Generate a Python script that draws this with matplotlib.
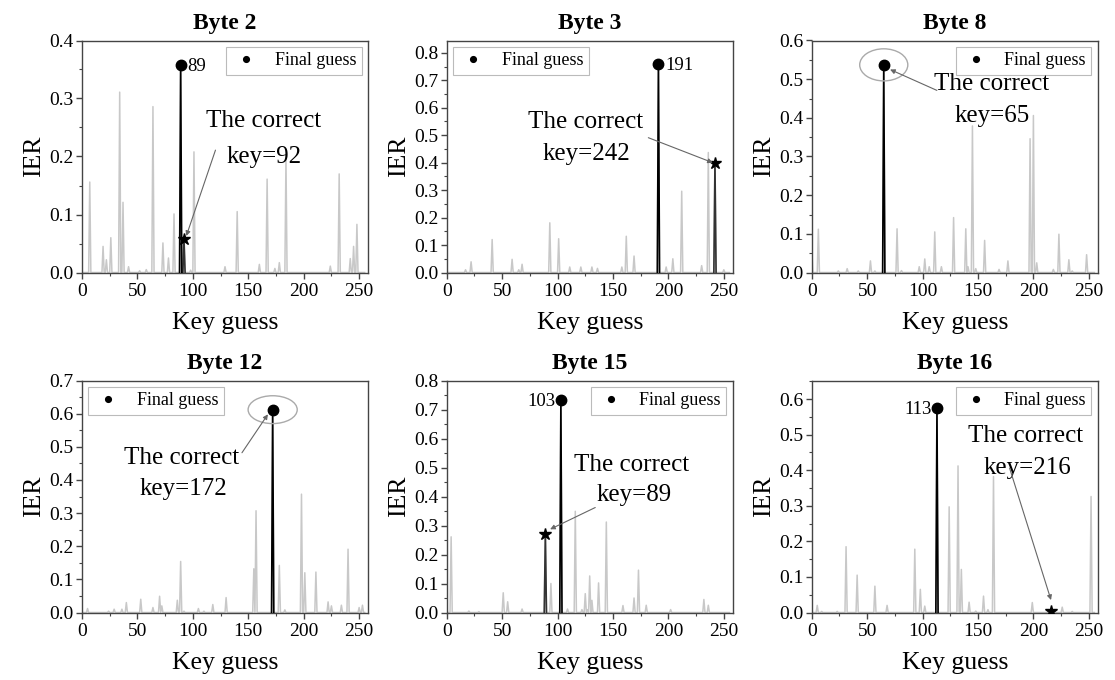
import numpy as np
import matplotlib
matplotlib.use("Agg")
import matplotlib.pyplot as plt
from matplotlib.patches import Ellipse
from matplotlib.ticker import MultipleLocator, FormatStrFormatter

plt.rcParams['font.family'] = ['Liberation Serif', 'DejaVu Serif']

# ---------------- data ----------------
titles = ["Byte 2", "Byte 3", "Byte 8", "Byte 12", "Byte 15", "Byte 16"]
final_guess = [89, 191, 65, 172, 103, 113]
correct_key = [92, 242, 65, 172, 89, 216]

b2_keys = [7, 19, 22, 26, 34, 37, 42, 52, 58, 64, 73, 78, 83, 89, 92, 98, 101,
           129, 140, 160, 167, 174, 178, 184, 224, 232, 242, 245, 248]
b2_vals = [0.156, 0.045, 0.022, 0.06, 0.311, 0.121, 0.01, 0.003, 0.005, 0.286,
           0.051, 0.025, 0.101, 0.358, 0.058, 0.004, 0.208, 0.01, 0.105, 0.014,
           0.161, 0.007, 0.017, 0.197, 0.011, 0.17, 0.024, 0.045, 0.083]

b3_keys = [17, 22, 41, 59, 65, 68, 93, 101, 111, 121, 131, 136, 158, 162, 169,
           191, 198, 204, 212, 230, 236, 242, 250]
b3_vals = [0.01, 0.039, 0.12, 0.048, 0.01, 0.03, 0.181, 0.123, 0.02, 0.02, 0.02,
           0.015, 0.02, 0.132, 0.06, 0.759, 0.02, 0.05, 0.296, 0.025, 0.437,
           0.399, 0.01]

b8_keys = [0, 6, 24, 32, 42, 53, 57, 65, 77, 81, 97, 102, 106, 111, 117, 128,
           139, 141, 145, 148, 156, 169, 177, 197, 200, 203, 218, 223, 232, 235, 248]
b8_vals = [0.07, 0.112, 0.004, 0.01, 0.004, 0.03, 0.004, 0.537, 0.113, 0.005,
           0.015, 0.035, 0.015, 0.105, 0.015, 0.142, 0.113, 0.015, 0.379, 0.01,
           0.083, 0.008, 0.03, 0.346, 0.406, 0.025, 0.008, 0.099, 0.033, 0.004, 0.046]

b12_keys = [5, 24, 29, 36, 40, 53, 64, 70, 72, 86, 89, 92, 105, 110, 118, 130,
            155, 157, 172, 178, 183, 198, 201, 211, 222, 225, 234, 240, 250, 253]
b12_vals = [0.012, 0.004, 0.01, 0.01, 0.03, 0.04, 0.015, 0.049, 0.02, 0.037,
            0.154, 0.004, 0.012, 0.004, 0.024, 0.045, 0.132, 0.307, 0.612, 0.142,
            0.008, 0.357, 0.12, 0.122, 0.032, 0.02, 0.022, 0.191, 0.015, 0.022]

b15_keys = [4, 20, 29, 51, 55, 68, 89, 94, 103, 109, 116, 122, 125, 127, 129,
            131, 137, 144, 159, 169, 173, 180, 202, 232, 236]
b15_vals = [0.261, 0.005, 0.003, 0.068, 0.037, 0.012, 0.27, 0.1, 0.732, 0.012,
            0.349, 0.01, 0.065, 0.01, 0.126, 0.042, 0.102, 0.312, 0.024, 0.05,
            0.146, 0.025, 0.01, 0.045, 0.025]

b16_keys = [5, 9, 23, 31, 41, 57, 68, 93, 98, 102, 113, 124, 132, 135, 142, 148,
            155, 159, 164, 199, 216, 226, 235, 252]
b16_vals = [0.02, 0.003, 0.003, 0.185, 0.105, 0.074, 0.02, 0.178, 0.065, 0.018,
            0.575, 0.297, 0.412, 0.121, 0.029, 0.004, 0.046, 0.008, 0.382, 0.028,
            0.005, 0.015, 0.003, 0.326]

spike_keys = [b2_keys, b3_keys, b8_keys, b12_keys, b15_keys, b16_keys]
spike_vals = [b2_vals, b3_vals, b8_vals, b12_vals, b15_vals, b16_vals]

# ---------------- layout / styling ----------------
y_top = [0.4, 0.845, 0.6, 0.7, 0.8, 0.652]
legend_loc = ["upper right", "upper left", "upper right", "upper left", "upper right", "upper right"]
label_side = ["right", "right", None, None, "left", "left"]
text_pos = [((164, 0.262), (164, 0.199)), ((125, 0.547), (126.5, 0.433)),
            ((162.6, 0.488), (162.6, 0.406)), ((89.4, 0.465), (91.2, 0.372)),
            ((167.1, 0.508), (169.2, 0.404)), ((192.7, 0.495), (194.2, 0.406))]
arrow_from = [(120.4, 0.211), (181.9, 0.491), (112.9, 0.471), (144.3, 0.482),
              (134, 0.362), (178.5, 0.406)]
arrow_to = [(94.1, 0.063), (240.0, 0.40), (70.7, 0.525), (167.7, 0.598),
            (93.3, 0.287), (215.9, 0.035)]
ellipse_size = [None, None, (43.4, 0.083), (44.3, 0.084), None, None]

cols_left = [82, 446.7, 811.7]
rows_bottom = [272.5, 612.5]
W, H = 1115, 680
axw, axh = 286, 232

fig = plt.figure(figsize=(11.15, 6.8), dpi=100)
fig.patch.set_facecolor('white')

all_keys = np.arange(256)
spine_col = '#444444'

for i in range(6):
    r, c = divmod(i, 3)
    ax = fig.add_axes([cols_left[c] / W, 1 - rows_bottom[r] / H, axw / W, axh / H])
    ier = np.zeros(256)
    ier[np.array(spike_keys[i])] = spike_vals[i]

    ax.plot(all_keys, ier, color='#c8c8c8', lw=1.1, zorder=2)
    f = final_guess[i]
    k = correct_key[i]
    if k != f:
        ax.plot(all_keys[k - 1:k + 2], ier[k - 1:k + 2], color='#333333', lw=1.2, zorder=3)
    ax.plot(all_keys[f - 1:f + 2], ier[f - 1:f + 2], color='black', lw=1.2, zorder=3)
    ax.plot([f], [ier[f]], 'o', color='black', ms=7.5, zorder=5, label='Final guess')
    if k != f:
        ax.plot([k], [ier[k]], marker='*', color='black', ms=9, ls='none', zorder=5)

    if label_side[i] == "right":
        ax.annotate(str(f), (f, ier[f]), xytext=(5, -1), textcoords='offset points',
                    ha='left', va='center', fontsize=13.5)
    elif label_side[i] == "left":
        ax.annotate(str(f), (f, ier[f]), xytext=(-4, -1), textcoords='offset points',
                    ha='right', va='center', fontsize=13.5)

    if ellipse_size[i] is not None:
        ew, eh = ellipse_size[i]
        ax.add_patch(Ellipse((f, ier[f]), ew, eh, fill=False, edgecolor='#aaaaaa',
                             lw=1.0, zorder=4))

    (t1, t2) = text_pos[i]
    ax.text(t1[0], t1[1], "The correct", ha='center', va='center', fontsize=18, zorder=6)
    ax.text(t2[0], t2[1], "key=%d" % k, ha='center', va='center', fontsize=18, zorder=6)
    ax.annotate('', xy=arrow_to[i], xytext=arrow_from[i],
                arrowprops=dict(arrowstyle='-|>', color='#666666', lw=0.8,
                                mutation_scale=7, shrinkA=0, shrinkB=0), zorder=6)

    ax.set_xlim(0, 258)
    ax.set_ylim(0, y_top[i])
    ax.xaxis.set_major_locator(MultipleLocator(50))
    ax.xaxis.set_minor_locator(MultipleLocator(25))
    ax.yaxis.set_major_locator(MultipleLocator(0.1))
    ax.yaxis.set_minor_locator(MultipleLocator(0.05))
    ax.yaxis.set_major_formatter(FormatStrFormatter('%.1f'))
    ax.tick_params(which='both', direction='out', colors=spine_col, labelcolor='black',
                   labelsize=14, top=False, right=False)
    ax.tick_params(which='major', length=4, width=1)
    ax.tick_params(which='minor', length=2.5, width=0.8)
    ax.tick_params(axis='y', pad=2)
    for s in ax.spines.values():
        s.set_color(spine_col)
        s.set_linewidth(1.0)

    ax.set_title(titles[i], fontsize=17, fontweight='bold', pad=8)
    ax.set_xlabel("Key guess", fontsize=18.5, labelpad=9)
    ax.set_ylabel("IER", fontsize=18.5, labelpad=3)

    leg = ax.legend(loc=legend_loc[i], fontsize=13, frameon=True, fancybox=False,
                    edgecolor='#bbbbbb', framealpha=1, markerscale=0.55,
                    handlelength=1.6, handletextpad=0.8, borderaxespad=0.35,
                    borderpad=0.3)
    leg.get_frame().set_linewidth(0.8)

fig.savefig("out.png", dpi=100, facecolor='white')
